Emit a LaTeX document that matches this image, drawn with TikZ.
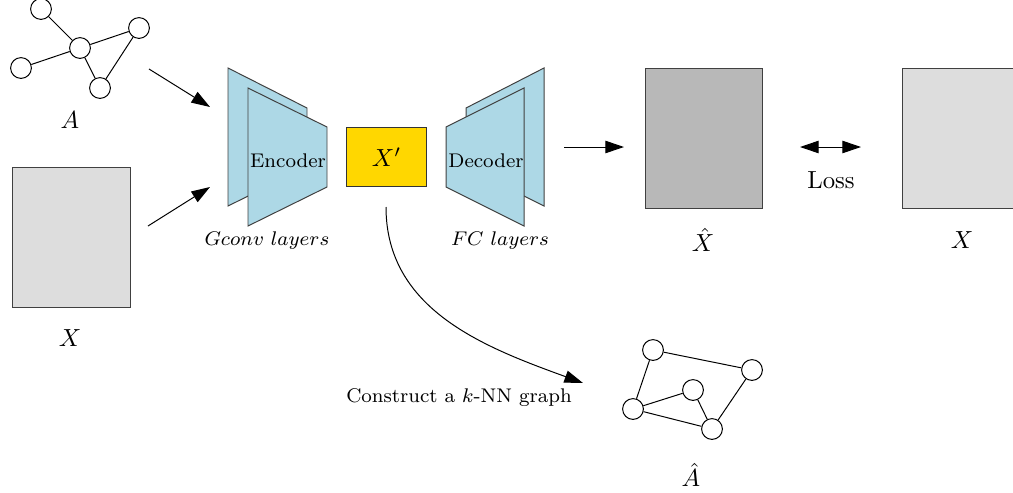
\documentclass[tikz,border=0pt]{standalone}
\usepackage{tikz}
\usetikzlibrary{arrows.meta, positioning, calc}
\definecolor{layerblue}{HTML}{ADD8E6}
\definecolor{codegold}{HTML}{FFD700}
\definecolor{featgray}{HTML}{DDDDDD}
\definecolor{recgray}{HTML}{B8B8B8}
\tikzset{
    vertex/.style={draw, fill=white, circle, minimum size=8.4pt, inner sep=0pt},
    matbox/.style={draw=black!75, minimum width=47.6pt, minimum height=56.2pt, inner sep=0pt},
    layer/.style={draw=black!75, fill=layerblue},
    bigarrow/.style={-{Triangle[length=7.5pt,width=5pt]}},
    dblarrow/.style={{Triangle[length=7.5pt,width=5pt]}-{Triangle[length=7.5pt,width=5pt]}}
}

\begin{document}
\begin{tikzpicture}[x=0.404pt, y=-0.404pt]
    \useasboundingbox (0,0) rectangle (1013,492);
    % input graph A
    \node[vertex] (a1) at (41,9) {};
    \node[vertex] (a2) at (80,48) {};
    \node[vertex] (a3) at (139,28) {};
    \node[vertex] (a4) at (21,68) {};
    \node[vertex] (a5) at (100,88) {};
    \draw (a1) -- (a2);
    \draw (a2) -- (a3);
    \draw (a2) -- (a4);
    \draw (a2) -- (a5);
    \draw (a5) -- (a3);
    \node (lA) at (70,120) {$A$};
    % input features X
    \node[matbox, fill=featgray] (xin) at (71.5,237.5) {};
    \node (lxin) at (70,338) {$X$};
    \coordinate (p1) at (149,69);
    \coordinate (p2) at (210,107);
    \coordinate (p3) at (148,226);
    \coordinate (p4) at (210,187);
    \draw[bigarrow] (p1) -- (p2);
    \draw[bigarrow] (p3) -- (p4);
    % encoder
    \draw[layer] (228,68) -- (307,108) -- (307,167) -- (228,206) -- cycle;
    \draw[layer] (248,88) -- (327,127) -- (327,187) -- (248,226) -- cycle;
    \node[font=\footnotesize] (enc) at (288,161) {Encoder};
    \node[font=\footnotesize] (lenc) at (267,241) {$Gconv\ layers$};
    % latent code
    \node[draw=black!80, fill=codegold, minimum width=32.3pt, minimum height=24.2pt, inner sep=0pt] (xp) at (386.5,157) {$X'$};
    % decoder
    \draw[layer] (466,108) -- (544,68) -- (544,206) -- (466,167) -- cycle;
    \draw[layer] (446,127) -- (524,88) -- (524,226) -- (446,187) -- cycle;
    \node[font=\footnotesize] (dec) at (486,161) {Decoder};
    \node[font=\footnotesize] (ldec) at (500,241) {$FC\ layers$};
    % reconstruction and loss
    \coordinate (p5) at (564,147);
    \coordinate (p6) at (624,147);
    \draw[bigarrow] (p5) -- (p6);
    \node[matbox, fill=recgray] (xhat) at (704,138.5) {};
    \node (lxhat) at (703,240) {$\hat{X}$};
    \coordinate (p7) at (800,147);
    \coordinate (p8) at (861,147);
    \draw[dblarrow] (p7) -- (p8);
    \node (loss) at (831,180) {Loss};
    \node[matbox, fill=featgray] (xout) at (961.5,138.5) {};
    \node (lxout) at (962,240) {$X$};
    % k-NN graph from X'
    \coordinate (p9) at (386,207);
    \coordinate (p10) at (583,383);
    \draw[bigarrow] (p9) to[out=-90, in=160] (p10);
    \node[font=\footnotesize] (knn) at (459,398) {Construct a $k$-NN graph};
    \node[vertex] (b1) at (653,350) {};
    \node[vertex] (b2) at (752,370) {};
    \node[vertex] (b3) at (693,390) {};
    \node[vertex] (b4) at (633,409) {};
    \node[vertex] (b5) at (712,429) {};
    \draw (b1) -- (b2);
    \draw (b1) -- (b4);
    \draw (b4) -- (b3);
    \draw (b4) -- (b5);
    \draw (b3) -- (b5);
    \draw (b2) -- (b5);
    \node (lAhat) at (691,475) {$\hat{A}$};
\end{tikzpicture}
\end{document}
